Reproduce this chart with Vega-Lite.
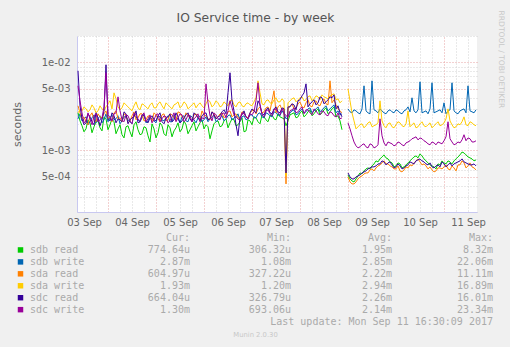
{
"$schema":"https://vega.github.io/schema/vega-lite/v6.json",
"background":"#f0f0f0",
"padding":{"left":11,"top":9,"right":9,"bottom":9},
"spacing":6,
"config":{"view":{"stroke":null}},
"vconcat":[
{
"width":400,"height":176,
"view":{"fill":"#ffffff","stroke":null},
"resolve":{"axis":{"x":"independent","y":"independent"}},
"layer":[
{
"data":{"values":[
{"t":"2017-09-03T09:00","s":1,"a":0.00268,"b":0.00229,"c":0.00322,"d":0.00268,"e":0.00805,"f":0.00543},
{"t":"2017-09-03T11:00","s":1,"a":0.00191,"b":0.00217,"c":0.00229,"d":0.00282,"e":0.00229,"f":0.00268},
{"t":"2017-09-03T13:00","s":1,"a":0.00176,"b":0.00241,"c":0.00212,"d":0.00297,"e":0.00206,"f":0.00217},
{"t":"2017-09-03T15:00","s":1,"a":0.00206,"b":0.00212,"c":0.00248,"d":0.0029,"e":0.00241,"f":0.00229},
{"t":"2017-09-03T17:00","s":1,"a":0.00186,"b":0.00254,"c":0.00223,"d":0.00305,"e":0.00196,"f":0.00248},
{"t":"2017-09-03T19:00","s":1,"a":0.00217,"b":0.00229,"c":0.00261,"d":0.00282,"e":0.00235,"f":0.00212},
{"t":"2017-09-03T21:00","s":1,"a":0.00167,"b":0.00206,"c":0.00235,"d":0.00297,"e":0.00223,"f":0.00235},
{"t":"2017-09-03T23:00","s":1,"a":0.00229,"b":0.00261,"c":0.00282,"d":0.00313,"e":0.00942,"f":0.00764},
{"t":"2017-09-04T01:00","s":1,"a":0.00196,"b":0.00235,"c":0.00241,"d":0.00367,"e":0.00217,"f":0.00241},
{"t":"2017-09-04T03:00","s":1,"a":0.00212,"b":0.00223,"c":0.00268,"d":0.00452,"e":0.00248,"f":0.00261},
{"t":"2017-09-04T05:00","s":1,"a":0.00176,"b":0.00248,"c":0.00229,"d":0.00313,"e":0.00229,"f":0.00407},
{"t":"2017-09-04T07:00","s":1,"a":0.00151,"b":0.00217,"c":0.00212,"d":0.00305,"e":0.00212,"f":0.00223},
{"t":"2017-09-04T09:00","s":1,"a":0.00186,"b":0.00241,"c":0.00254,"d":0.0033,"e":0.00261,"f":0.00254},
{"t":"2017-09-04T11:00","s":1,"a":0.00163,"b":0.00212,"c":0.00217,"d":0.00297,"e":0.00223,"f":0.00217},
{"t":"2017-09-04T13:00","s":1,"a":0.00196,"b":0.00254,"c":0.00275,"d":0.00322,"e":0.00241,"f":0.00268},
{"t":"2017-09-04T15:00","s":1,"a":0.00172,"b":0.00223,"c":0.00235,"d":0.00305,"e":0.00206,"f":0.00229},
{"t":"2017-09-04T17:00","s":1,"a":0.00155,"b":0.00235,"c":0.00261,"d":0.00339,"e":0.00254,"f":0.00248},
{"t":"2017-09-04T19:00","s":1,"a":0.00181,"b":0.00206,"c":0.00223,"d":0.00313,"e":0.00217,"f":0.00212},
{"t":"2017-09-04T21:00","s":1,"a":0.00125,"b":0.00241,"c":0.00241,"d":0.0033,"e":0.00235,"f":0.00254},
{"t":"2017-09-04T23:00","s":1,"a":0.00176,"b":0.00217,"c":0.00268,"d":0.00305,"e":0.00223,"f":0.00223},
{"t":"2017-09-05T01:00","s":1,"a":0.00159,"b":0.00248,"c":0.00229,"d":0.00339,"e":0.00248,"f":0.00261},
{"t":"2017-09-05T03:00","s":1,"a":0.00191,"b":0.00223,"c":0.00254,"d":0.00322,"e":0.00212,"f":0.00229},
{"t":"2017-09-05T05:00","s":1,"a":0.00147,"b":0.00235,"c":0.00217,"d":0.00348,"e":0.00235,"f":0.00241},
{"t":"2017-09-05T07:00","s":1,"a":0.00181,"b":0.00212,"c":0.00261,"d":0.00313,"e":0.00261,"f":0.00217},
{"t":"2017-09-05T09:00","s":1,"a":0.00167,"b":0.00254,"c":0.00235,"d":0.0033,"e":0.00223,"f":0.00268},
{"t":"2017-09-05T11:00","s":1,"a":0.00206,"b":0.00229,"c":0.00275,"d":0.00357,"e":0.00241,"f":0.00235},
{"t":"2017-09-05T13:00","s":1,"a":0.00176,"b":0.00241,"c":0.00241,"d":0.00322,"e":0.00217,"f":0.00254},
{"t":"2017-09-05T15:00","s":1,"a":0.00196,"b":0.00217,"c":0.00268,"d":0.00339,"e":0.00254,"f":0.00223},
{"t":"2017-09-05T17:00","s":1,"a":0.00172,"b":0.00248,"c":0.00229,"d":0.00313,"e":0.00229,"f":0.00248},
{"t":"2017-09-05T19:00","s":1,"a":0.00212,"b":0.00223,"c":0.00254,"d":0.00348,"e":0.00268,"f":0.00229},
{"t":"2017-09-05T21:00","s":1,"a":0.00186,"b":0.00235,"c":0.00235,"d":0.0033,"e":0.00235,"f":0.00261},
{"t":"2017-09-05T23:00","s":1,"a":0.00223,"b":0.00212,"c":0.00282,"d":0.00322,"e":0.00248,"f":0.00235},
{"t":"2017-09-06T01:00","s":1,"a":0.00196,"b":0.00241,"c":0.00248,"d":0.00339,"e":0.00268,"f":0.00572},
{"t":"2017-09-06T03:00","s":1,"a":0.00136,"b":0.00229,"c":0.00223,"d":0.00357,"e":0.00229,"f":0.00248},
{"t":"2017-09-06T05:00","s":1,"a":0.00201,"b":0.00254,"c":0.00261,"d":0.0033,"e":0.00254,"f":0.00268},
{"t":"2017-09-06T07:00","s":1,"a":0.00217,"b":0.00223,"c":0.00241,"d":0.00348,"e":0.00241,"f":0.00229},
{"t":"2017-09-06T09:00","s":1,"a":0.00191,"b":0.00248,"c":0.00268,"d":0.00322,"e":0.00275,"f":0.00261},
{"t":"2017-09-06T11:00","s":1,"a":0.00229,"b":0.00229,"c":0.00248,"d":0.00339,"e":0.00261,"f":0.00235},
{"t":"2017-09-06T13:00","s":1,"a":0.00206,"b":0.00254,"c":0.00282,"d":0.00367,"e":0.00764,"f":0.00367},
{"t":"2017-09-06T15:00","s":1,"a":0.00223,"b":0.00235,"c":0.00254,"d":0.0033,"e":0.00282,"f":0.00254},
{"t":"2017-09-06T17:00","s":1,"a":0.00196,"b":0.00261,"c":0.00235,"d":0.00348,"e":0.00147,"f":0.00229},
{"t":"2017-09-06T19:00","s":1,"a":0.00235,"b":0.00241,"c":0.00275,"d":0.00322,"e":0.00254,"f":0.00268},
{"t":"2017-09-06T21:00","s":1,"a":0.00167,"b":0.00223,"c":0.00241,"d":0.00339,"e":0.00241,"f":0.00241},
{"t":"2017-09-06T23:00","s":1,"a":0.00217,"b":0.00254,"c":0.00268,"d":0.0033,"e":0.00268,"f":0.00261},
{"t":"2017-09-07T01:00","s":1,"a":0.00241,"b":0.00235,"c":0.0029,"d":0.00357,"e":0.00282,"f":0.00275},
{"t":"2017-09-07T03:00","s":1,"a":0.00212,"b":0.00261,"c":0.00297,"d":0.00619,"e":0.00367,"f":0.00588},
{"t":"2017-09-07T05:00","s":1,"a":0.00254,"b":0.00241,"c":0.00268,"d":0.00339,"e":0.00261,"f":0.00254},
{"t":"2017-09-07T07:00","s":1,"a":0.00223,"b":0.00268,"c":0.00305,"d":0.00367,"e":0.0029,"f":0.00282},
{"t":"2017-09-07T09:00","s":1,"a":0.00248,"b":0.00248,"c":0.00282,"d":0.00348,"e":0.00268,"f":0.00261},
{"t":"2017-09-07T11:00","s":1,"a":0.00229,"b":0.00275,"c":0.00477,"d":0.00377,"e":0.00297,"f":0.0029},
{"t":"2017-09-07T13:00","s":1,"a":0.00261,"b":0.00254,"c":0.00313,"d":0.00357,"e":0.00275,"f":0.00268},
{"t":"2017-09-07T15:00","s":1,"a":0.00235,"b":0.00282,"c":0.0029,"d":0.00386,"e":0.00305,"f":0.00297},
{"t":"2017-09-07T17:00","s":1,"a":0.00191,"b":0.00229,"c":0.000417,"d":0.000514,"e":0.000556,"f":0.00248},
{"t":"2017-09-07T19:00","s":1,"a":0.00254,"b":0.00268,"c":0.00322,"d":0.00367,"e":0.00313,"f":0.00282},
{"t":"2017-09-07T21:00","s":1,"a":0.00268,"b":0.0029,"c":0.00297,"d":0.00397,"e":0.0033,"f":0.00305},
{"t":"2017-09-07T23:00","s":1,"a":0.00241,"b":0.00261,"c":0.00339,"d":0.00377,"e":0.00367,"f":0.00275},
{"t":"2017-09-08T01:00","s":1,"a":0.00282,"b":0.00297,"c":0.00313,"d":0.00407,"e":0.00418,"f":0.00313},
{"t":"2017-09-08T03:00","s":1,"a":0.00254,"b":0.00275,"c":0.00348,"d":0.00377,"e":0.00572,"f":0.0029},
{"t":"2017-09-08T05:00","s":1,"a":0.0029,"b":0.00305,"c":0.00322,"d":0.00418,"e":0.00339,"f":0.00268},
{"t":"2017-09-08T07:00","s":1,"a":0.00261,"b":0.00282,"c":0.00357,"d":0.00386,"e":0.00377,"f":0.00297},
{"t":"2017-09-08T09:00","s":1,"a":0.00297,"b":0.00313,"c":0.0033,"d":0.00407,"e":0.00348,"f":0.00261},
{"t":"2017-09-08T11:00","s":1,"a":0.00268,"b":0.0029,"c":0.00367,"d":0.00429,"e":0.00397,"f":0.00282},
{"t":"2017-09-08T13:00","s":1,"a":0.00305,"b":0.00322,"c":0.00339,"d":0.00397,"e":0.00357,"f":0.00254},
{"t":"2017-09-08T15:00","s":1,"a":0.00275,"b":0.00297,"c":0.00619,"d":0.00418,"e":0.00407,"f":0.00275},
{"t":"2017-09-08T17:00","s":1,"a":0.00313,"b":0.0033,"c":0.00377,"d":0.00441,"e":0.00429,"f":0.00248},
{"t":"2017-09-08T19:00","s":1,"a":0.00248,"b":0.00282,"c":0.00297,"d":0.00386,"e":0.00322,"f":0.00268},
{"t":"2017-09-08T21:00","s":1,"a":0.00172,"b":0.00261,"c":0.00268,"d":0.00367,"e":0.00241,"f":0.00235},
{"t":"2017-09-03T10:00","s":1,"a":0.00217,"b":0.00261,"c":0.00268,"d":0.0029,"e":0.00322,"f":0.00367},
{"t":"2017-09-03T12:00","s":1,"a":0.00163,"b":0.00229,"c":0.00241,"d":0.00313,"e":0.00196,"f":0.00206},
{"t":"2017-09-03T14:00","s":1,"a":0.00223,"b":0.00196,"c":0.00196,"d":0.00275,"e":0.00261,"f":0.00268},
{"t":"2017-09-03T16:00","s":1,"a":0.00159,"b":0.00235,"c":0.00268,"d":0.0033,"e":0.00212,"f":0.00196},
{"t":"2017-09-03T18:00","s":1,"a":0.00212,"b":0.00206,"c":0.00212,"d":0.00268,"e":0.00268,"f":0.00261},
{"t":"2017-09-03T20:00","s":1,"a":0.00181,"b":0.00248,"c":0.00241,"d":0.00322,"e":0.00191,"f":0.00223},
{"t":"2017-09-03T22:00","s":1,"a":0.00241,"b":0.00223,"c":0.00261,"d":0.00282,"e":0.00282,"f":0.00313},
{"t":"2017-09-04T00:00","s":1,"a":0.00172,"b":0.00212,"c":0.00229,"d":0.00339,"e":0.00229,"f":0.00254},
{"t":"2017-09-04T02:00","s":1,"a":0.00229,"b":0.00254,"c":0.00212,"d":0.00297,"e":0.00268,"f":0.00217},
{"t":"2017-09-04T04:00","s":1,"a":0.00155,"b":0.00229,"c":0.00282,"d":0.00386,"e":0.00206,"f":0.00268},
{"t":"2017-09-04T06:00","s":1,"a":0.00196,"b":0.00201,"c":0.00235,"d":0.0029,"e":0.00223,"f":0.00282},
{"t":"2017-09-04T08:00","s":1,"a":0.00139,"b":0.00241,"c":0.00261,"d":0.00348,"e":0.00275,"f":0.00212},
{"t":"2017-09-04T10:00","s":1,"a":0.00191,"b":0.00223,"c":0.00206,"d":0.00313,"e":0.00201,"f":0.00248},
{"t":"2017-09-04T12:00","s":1,"a":0.00143,"b":0.00201,"c":0.00248,"d":0.00282,"e":0.00235,"f":0.00201},
{"t":"2017-09-04T14:00","s":1,"a":0.00212,"b":0.00241,"c":0.00223,"d":0.00357,"e":0.00282,"f":0.00254},
{"t":"2017-09-04T16:00","s":1,"a":0.00151,"b":0.00212,"c":0.00261,"d":0.0029,"e":0.00212,"f":0.00217},
{"t":"2017-09-04T18:00","s":1,"a":0.00186,"b":0.00254,"c":0.00217,"d":0.0033,"e":0.00254,"f":0.00268},
{"t":"2017-09-04T20:00","s":1,"a":0.00147,"b":0.00217,"c":0.00248,"d":0.00297,"e":0.00206,"f":0.00229},
{"t":"2017-09-04T22:00","s":1,"a":0.00201,"b":0.00229,"c":0.00212,"d":0.00348,"e":0.00248,"f":0.00206},
{"t":"2017-09-05T00:00","s":1,"a":0.00139,"b":0.00206,"c":0.00254,"d":0.00305,"e":0.00217,"f":0.00254},
{"t":"2017-09-05T02:00","s":1,"a":0.00206,"b":0.00241,"c":0.00212,"d":0.00357,"e":0.00268,"f":0.00212},
{"t":"2017-09-05T04:00","s":1,"a":0.00155,"b":0.00217,"c":0.00261,"d":0.00297,"e":0.00201,"f":0.00248},
{"t":"2017-09-05T06:00","s":1,"a":0.00196,"b":0.00248,"c":0.00223,"d":0.0033,"e":0.00241,"f":0.00206},
{"t":"2017-09-05T08:00","s":1,"a":0.00143,"b":0.00212,"c":0.00254,"d":0.00297,"e":0.00212,"f":0.00241},
{"t":"2017-09-05T10:00","s":1,"a":0.00181,"b":0.00235,"c":0.00217,"d":0.00339,"e":0.00268,"f":0.00212},
{"t":"2017-09-05T12:00","s":1,"a":0.00163,"b":0.00206,"c":0.00268,"d":0.00305,"e":0.00206,"f":0.00261},
{"t":"2017-09-05T14:00","s":1,"a":0.00217,"b":0.00248,"c":0.00229,"d":0.00357,"e":0.00235,"f":0.00212},
{"t":"2017-09-05T16:00","s":1,"a":0.00155,"b":0.00212,"c":0.00254,"d":0.00297,"e":0.00268,"f":0.00254},
{"t":"2017-09-05T18:00","s":1,"a":0.00191,"b":0.00241,"c":0.00217,"d":0.0033,"e":0.00212,"f":0.00212},
{"t":"2017-09-05T20:00","s":1,"a":0.00167,"b":0.00206,"c":0.00261,"d":0.00305,"e":0.00254,"f":0.00241},
{"t":"2017-09-05T22:00","s":1,"a":0.00206,"b":0.00248,"c":0.00223,"d":0.00348,"e":0.00217,"f":0.00212},
{"t":"2017-09-06T00:00","s":1,"a":0.00176,"b":0.00223,"c":0.00254,"d":0.00305,"e":0.00261,"f":0.00229},
{"t":"2017-09-06T02:00","s":1,"a":0.00186,"b":0.00212,"c":0.00229,"d":0.00377,"e":0.00223,"f":0.00348},
{"t":"2017-09-06T04:00","s":1,"a":0.00167,"b":0.00241,"c":0.00275,"d":0.00313,"e":0.00275,"f":0.00217},
{"t":"2017-09-06T06:00","s":1,"a":0.00212,"b":0.00212,"c":0.00229,"d":0.00367,"e":0.00229,"f":0.00254},
{"t":"2017-09-06T08:00","s":1,"a":0.00186,"b":0.00235,"c":0.00261,"d":0.00313,"e":0.00248,"f":0.00223},
{"t":"2017-09-06T10:00","s":1,"a":0.00217,"b":0.00217,"c":0.00235,"d":0.00357,"e":0.0029,"f":0.00268},
{"t":"2017-09-06T12:00","s":1,"a":0.00181,"b":0.00248,"c":0.00275,"d":0.00322,"e":0.00452,"f":0.00282},
{"t":"2017-09-06T14:00","s":1,"a":0.00229,"b":0.00223,"c":0.00241,"d":0.00377,"e":0.00367,"f":0.00305},
{"t":"2017-09-06T16:00","s":1,"a":0.00191,"b":0.00241,"c":0.00261,"d":0.00313,"e":0.00196,"f":0.00241},
{"t":"2017-09-06T18:00","s":1,"a":0.00212,"b":0.00217,"c":0.00229,"d":0.00357,"e":0.00241,"f":0.00217},
{"t":"2017-09-06T20:00","s":1,"a":0.00163,"b":0.00248,"c":0.00268,"d":0.00313,"e":0.00282,"f":0.00261},
{"t":"2017-09-06T22:00","s":1,"a":0.00223,"b":0.00229,"c":0.00235,"d":0.00348,"e":0.00229,"f":0.00229},
{"t":"2017-09-07T00:00","s":1,"a":0.00196,"b":0.00254,"c":0.00282,"d":0.00322,"e":0.00297,"f":0.00254},
{"t":"2017-09-07T02:00","s":1,"a":0.00235,"b":0.00235,"c":0.00261,"d":0.00397,"e":0.00268,"f":0.00367},
{"t":"2017-09-07T04:00","s":1,"a":0.00201,"b":0.00268,"c":0.00313,"d":0.00452,"e":0.0033,"f":0.0033},
{"t":"2017-09-07T06:00","s":1,"a":0.00241,"b":0.00235,"c":0.00275,"d":0.0033,"e":0.00254,"f":0.00241},
{"t":"2017-09-07T08:00","s":1,"a":0.00212,"b":0.00261,"c":0.00313,"d":0.00377,"e":0.00305,"f":0.0029},
{"t":"2017-09-07T10:00","s":1,"a":0.00254,"b":0.00241,"c":0.00367,"d":0.00339,"e":0.00261,"f":0.00248},
{"t":"2017-09-07T12:00","s":1,"a":0.00223,"b":0.00268,"c":0.00268,"d":0.00397,"e":0.00313,"f":0.00297},
{"t":"2017-09-07T14:00","s":1,"a":0.00241,"b":0.00248,"c":0.0033,"d":0.00357,"e":0.00268,"f":0.00254},
{"t":"2017-09-07T16:00","s":1,"a":0.00229,"b":0.00261,"c":0.00305,"d":0.00367,"e":0.00297,"f":0.00268},
{"t":"2017-09-07T18:00","s":1,"a":0.00217,"b":0.00241,"c":0.00297,"d":0.00348,"e":0.00313,"f":0.00241},
{"t":"2017-09-07T20:00","s":1,"a":0.00261,"b":0.00282,"c":0.00339,"d":0.00386,"e":0.00339,"f":0.0029},
{"t":"2017-09-07T22:00","s":1,"a":0.00235,"b":0.00254,"c":0.00305,"d":0.00357,"e":0.0029,"f":0.00268},
{"t":"2017-09-08T00:00","s":1,"a":0.00268,"b":0.00282,"c":0.00357,"d":0.00397,"e":0.00377,"f":0.00297},
{"t":"2017-09-08T02:00","s":1,"a":0.00241,"b":0.00268,"c":0.00305,"d":0.00367,"e":0.00452,"f":0.00261},
{"t":"2017-09-08T04:00","s":1,"a":0.00275,"b":0.00297,"c":0.00377,"d":0.00407,"e":0.00313,"f":0.0029},
{"t":"2017-09-08T06:00","s":1,"a":0.00248,"b":0.00268,"c":0.00313,"d":0.00367,"e":0.00357,"f":0.00254},
{"t":"2017-09-08T08:00","s":1,"a":0.00282,"b":0.00297,"c":0.00367,"d":0.00418,"e":0.0033,"f":0.00282},
{"t":"2017-09-08T10:00","s":1,"a":0.00254,"b":0.00275,"c":0.00322,"d":0.00377,"e":0.00407,"f":0.00254},
{"t":"2017-09-08T12:00","s":1,"a":0.0029,"b":0.00305,"c":0.00386,"d":0.00407,"e":0.00339,"f":0.00275},
{"t":"2017-09-08T14:00","s":1,"a":0.00261,"b":0.00282,"c":0.0033,"d":0.00386,"e":0.00377,"f":0.00248},
{"t":"2017-09-08T16:00","s":1,"a":0.00297,"b":0.00313,"c":0.00348,"d":0.00429,"e":0.00397,"f":0.00268},
{"t":"2017-09-08T18:00","s":1,"a":0.00241,"b":0.00268,"c":0.0033,"d":0.00377,"e":0.00297,"f":0.00241},
{"t":"2017-09-08T20:00","s":1,"a":0.00217,"b":0.00254,"c":0.00282,"d":0.00348,"e":0.00268,"f":0.00229},
{"t":"2017-09-09T00:00","s":2,"a":0.000528,"b":0.00297,"c":0.000501,"d":0.00502,"e":0.000556,"f":0.00206},
{"t":"2017-09-09T02:00","s":2,"a":0.000451,"b":0.00268,"c":0.000417,"d":0.00268,"e":0.000475,"f":0.00147},
{"t":"2017-09-09T04:00","s":2,"a":0.000475,"b":0.00282,"c":0.000439,"d":0.00176,"e":0.000501,"f":0.00113},
{"t":"2017-09-09T06:00","s":2,"a":0.000556,"b":0.00261,"c":0.000501,"d":0.00196,"e":0.000528,"f":0.0011},
{"t":"2017-09-09T08:00","s":2,"a":0.000586,"b":0.00543,"c":0.000542,"d":0.00181,"e":0.000571,"f":0.00119},
{"t":"2017-09-09T10:00","s":2,"a":0.000634,"b":0.00268,"c":0.000556,"d":0.00206,"e":0.000618,"f":0.00107},
{"t":"2017-09-09T12:00","s":2,"a":0.000668,"b":0.00619,"c":0.000618,"d":0.00186,"e":0.000651,"f":0.00116},
{"t":"2017-09-09T14:00","s":2,"a":0.000762,"b":0.00282,"c":0.000634,"d":0.00196,"e":0.000668,"f":0.0011},
{"t":"2017-09-09T16:00","s":2,"a":0.000803,"b":0.00297,"c":0.000686,"d":0.00367,"e":0.000704,"f":0.00229},
{"t":"2017-09-09T18:00","s":2,"a":0.000891,"b":0.00268,"c":0.000762,"d":0.00191,"e":0.000742,"f":0.00122},
{"t":"2017-09-09T20:00","s":2,"a":0.000803,"b":0.00282,"c":0.000704,"d":0.00201,"e":0.000723,"f":0.00125},
{"t":"2017-09-09T22:00","s":2,"a":0.000723,"b":0.00275,"c":0.000651,"d":0.00186,"e":0.000686,"f":0.00119},
{"t":"2017-09-10T00:00","s":2,"a":0.000668,"b":0.0029,"c":0.000618,"d":0.00196,"e":0.000651,"f":0.00116},
{"t":"2017-09-10T02:00","s":2,"a":0.000704,"b":0.00268,"c":0.000586,"d":0.00206,"e":0.000668,"f":0.00122},
{"t":"2017-09-10T04:00","s":2,"a":0.000651,"b":0.00282,"c":0.000602,"d":0.00186,"e":0.000634,"f":0.00113},
{"t":"2017-09-10T06:00","s":2,"a":0.000723,"b":0.00313,"c":0.000634,"d":0.00282,"e":0.000686,"f":0.00125},
{"t":"2017-09-10T08:00","s":2,"a":0.000803,"b":0.00397,"c":0.000668,"d":0.00196,"e":0.000723,"f":0.00136},
{"t":"2017-09-10T10:00","s":2,"a":0.000868,"b":0.00268,"c":0.000762,"d":0.00181,"e":0.000762,"f":0.00143},
{"t":"2017-09-10T12:00","s":2,"a":0.000915,"b":0.00603,"c":0.000742,"d":0.00201,"e":0.000803,"f":0.00139},
{"t":"2017-09-10T14:00","s":2,"a":0.000803,"b":0.00275,"c":0.000704,"d":0.00191,"e":0.000742,"f":0.00129},
{"t":"2017-09-10T16:00","s":2,"a":0.000723,"b":0.00261,"c":0.000618,"d":0.00196,"e":0.000686,"f":0.00119},
{"t":"2017-09-10T18:00","s":2,"a":0.000668,"b":0.00588,"c":0.000602,"d":0.00181,"e":0.000651,"f":0.00125},
{"t":"2017-09-10T20:00","s":2,"a":0.000618,"b":0.00275,"c":0.000586,"d":0.00201,"e":0.000668,"f":0.00116},
{"t":"2017-09-10T22:00","s":2,"a":0.000686,"b":0.0029,"c":0.000634,"d":0.00191,"e":0.000651,"f":0.00122},
{"t":"2017-09-11T00:00","s":2,"a":0.000723,"b":0.00348,"c":0.000651,"d":0.00206,"e":0.000704,"f":0.00129},
{"t":"2017-09-11T02:00","s":2,"a":0.000762,"b":0.00282,"c":0.000618,"d":0.00297,"e":0.000686,"f":0.00212},
{"t":"2017-09-11T04:00","s":2,"a":0.000704,"b":0.00588,"c":0.000668,"d":0.00196,"e":0.000668,"f":0.00125},
{"t":"2017-09-11T06:00","s":2,"a":0.000803,"b":0.00268,"c":0.000586,"d":0.00186,"e":0.000723,"f":0.00119},
{"t":"2017-09-11T08:00","s":2,"a":0.000891,"b":0.00282,"c":0.000686,"d":0.00196,"e":0.000762,"f":0.00122},
{"t":"2017-09-11T10:00","s":2,"a":0.000939,"b":0.00297,"c":0.000723,"d":0.00241,"e":0.000742,"f":0.00151},
{"t":"2017-09-11T12:00","s":2,"a":0.000846,"b":0.00543,"c":0.000668,"d":0.00191,"e":0.000704,"f":0.00139},
{"t":"2017-09-11T14:00","s":2,"a":0.000803,"b":0.00275,"c":0.000651,"d":0.00206,"e":0.000686,"f":0.00125},
{"t":"2017-09-11T16:00","s":2,"a":0.000782,"b":0.0029,"c":0.000602,"d":0.00191,"e":0.000668,"f":0.00129},
{"t":"2017-09-09T01:00","s":2,"a":0.000475,"b":0.00275,"c":0.000439,"d":0.00367,"e":0.000501,"f":0.00176},
{"t":"2017-09-09T03:00","s":2,"a":0.000439,"b":0.0029,"c":0.000417,"d":0.00217,"e":0.000475,"f":0.00125},
{"t":"2017-09-09T05:00","s":2,"a":0.000514,"b":0.00268,"c":0.000475,"d":0.00186,"e":0.000514,"f":0.00107},
{"t":"2017-09-09T07:00","s":2,"a":0.000542,"b":0.00297,"c":0.000514,"d":0.00201,"e":0.000556,"f":0.00116},
{"t":"2017-09-09T09:00","s":2,"a":0.000618,"b":0.00282,"c":0.000556,"d":0.00191,"e":0.000586,"f":0.0011},
{"t":"2017-09-09T11:00","s":2,"a":0.000618,"b":0.00261,"c":0.000602,"d":0.00212,"e":0.000634,"f":0.00119},
{"t":"2017-09-09T13:00","s":2,"a":0.000704,"b":0.0029,"c":0.000586,"d":0.00191,"e":0.000651,"f":0.00107},
{"t":"2017-09-09T15:00","s":2,"a":0.000742,"b":0.00268,"c":0.000668,"d":0.00206,"e":0.000704,"f":0.00116},
{"t":"2017-09-09T17:00","s":2,"a":0.000846,"b":0.00282,"c":0.000723,"d":0.00217,"e":0.000762,"f":0.00147},
{"t":"2017-09-09T19:00","s":2,"a":0.000824,"b":0.00261,"c":0.000704,"d":0.00181,"e":0.000686,"f":0.00113},
{"t":"2017-09-09T21:00","s":2,"a":0.000742,"b":0.0029,"c":0.000668,"d":0.00206,"e":0.000742,"f":0.00122},
{"t":"2017-09-09T23:00","s":2,"a":0.000651,"b":0.00268,"c":0.000618,"d":0.00181,"e":0.000634,"f":0.00113},
{"t":"2017-09-10T01:00","s":2,"a":0.000723,"b":0.00282,"c":0.000668,"d":0.00212,"e":0.000704,"f":0.00125},
{"t":"2017-09-10T03:00","s":2,"a":0.000634,"b":0.00261,"c":0.000571,"d":0.00191,"e":0.000618,"f":0.00116},
{"t":"2017-09-10T05:00","s":2,"a":0.000686,"b":0.0029,"c":0.000651,"d":0.00201,"e":0.000668,"f":0.00122},
{"t":"2017-09-10T07:00","s":2,"a":0.000762,"b":0.00275,"c":0.000686,"d":0.00186,"e":0.000742,"f":0.00129},
{"t":"2017-09-10T09:00","s":2,"a":0.000846,"b":0.00282,"c":0.000723,"d":0.00206,"e":0.000704,"f":0.00139},
{"t":"2017-09-10T11:00","s":2,"a":0.000824,"b":0.0029,"c":0.000803,"d":0.00186,"e":0.000782,"f":0.00132},
{"t":"2017-09-10T13:00","s":2,"a":0.000868,"b":0.00268,"c":0.000686,"d":0.00212,"e":0.000762,"f":0.00136},
{"t":"2017-09-10T15:00","s":2,"a":0.000762,"b":0.00282,"c":0.000668,"d":0.00186,"e":0.000704,"f":0.00125},
{"t":"2017-09-10T17:00","s":2,"a":0.000686,"b":0.00297,"c":0.000651,"d":0.00206,"e":0.000723,"f":0.00116},
{"t":"2017-09-10T19:00","s":2,"a":0.000651,"b":0.00268,"c":0.000571,"d":0.00191,"e":0.000634,"f":0.00122},
{"t":"2017-09-10T21:00","s":2,"a":0.000704,"b":0.00282,"c":0.000634,"d":0.00212,"e":0.000686,"f":0.00125},
{"t":"2017-09-10T23:00","s":2,"a":0.000762,"b":0.00268,"c":0.000618,"d":0.00196,"e":0.000742,"f":0.00119},
{"t":"2017-09-11T01:00","s":2,"a":0.000704,"b":0.00261,"c":0.000686,"d":0.00229,"e":0.000651,"f":0.00143},
{"t":"2017-09-11T03:00","s":2,"a":0.000742,"b":0.0029,"c":0.000602,"d":0.00217,"e":0.000723,"f":0.00136},
{"t":"2017-09-11T05:00","s":2,"a":0.000762,"b":0.00282,"c":0.000634,"d":0.00181,"e":0.000704,"f":0.00116},
{"t":"2017-09-11T07:00","s":2,"a":0.000846,"b":0.00261,"c":0.000686,"d":0.00201,"e":0.000742,"f":0.00125},
{"t":"2017-09-11T09:00","s":2,"a":0.00096,"b":0.0029,"c":0.000762,"d":0.00212,"e":0.000803,"f":0.00132},
{"t":"2017-09-11T11:00","s":2,"a":0.000891,"b":0.00268,"c":0.000634,"d":0.00196,"e":0.000723,"f":0.00129},
{"t":"2017-09-11T13:00","s":2,"a":0.000824,"b":0.00282,"c":0.000723,"d":0.00212,"e":0.000686,"f":0.00136},
{"t":"2017-09-11T15:00","s":2,"a":0.000762,"b":0.00268,"c":0.000634,"d":0.00196,"e":0.000704,"f":0.00125}
]},
"transform":[{"fold":["a","b","c","d","e","f"],"as":["k","v"]}],
"mark":{"type":"line","strokeWidth":1,"clip":true},
"encoding":{
"x":{"field":"t","type":"temporal","scale":{"domain":[{"year":2017,"month":9,"date":3,"hours":8,"minutes":30},{"year":2017,"month":9,"date":11,"hours":16,"minutes":30}],"nice":false},
"axis":{"orient":"bottom","title":null,"values":[
{"year":2017,"month":9,"date":3,"hours":12},{"year":2017,"month":9,"date":3,"hours":18},
{"year":2017,"month":9,"date":4,"hours":6},{"year":2017,"month":9,"date":4,"hours":12},{"year":2017,"month":9,"date":4,"hours":18},
{"year":2017,"month":9,"date":5,"hours":6},{"year":2017,"month":9,"date":5,"hours":12},{"year":2017,"month":9,"date":5,"hours":18},
{"year":2017,"month":9,"date":6,"hours":6},{"year":2017,"month":9,"date":6,"hours":12},{"year":2017,"month":9,"date":6,"hours":18},
{"year":2017,"month":9,"date":7,"hours":6},{"year":2017,"month":9,"date":7,"hours":12},{"year":2017,"month":9,"date":7,"hours":18},
{"year":2017,"month":9,"date":8,"hours":6},{"year":2017,"month":9,"date":8,"hours":12},{"year":2017,"month":9,"date":8,"hours":18},
{"year":2017,"month":9,"date":9,"hours":6},{"year":2017,"month":9,"date":9,"hours":12},{"year":2017,"month":9,"date":9,"hours":18},
{"year":2017,"month":9,"date":10,"hours":6},{"year":2017,"month":9,"date":10,"hours":12},{"year":2017,"month":9,"date":10,"hours":18},
{"year":2017,"month":9,"date":11,"hours":6},{"year":2017,"month":9,"date":11,"hours":12}],
"labelExpr":"hours(datum.value) == 12 ? timeFormat(datum.value, '%d %b') : ''","labelOverlap":false,"labelFlush":false,"labelFont":"DejaVu Sans","labelFontSize":10,"labelColor":"#666666","labelPadding":5,"ticks":false,"grid":true,"gridColor":"#d2d2d2","gridDash":[1,2],"domainColor":"#c8c8f0"}},
"y":{"field":"v","type":"quantitative","scale":{"type":"log","domain":[0.0002,0.02],"nice":false},
"axis":{"orient":"left","title":"seconds","values":[0.0005,0.001,0.005,0.01],"labelExpr":"replace(format(datum.value, '.0e'), 'e-', 'e-0')","labelOverlap":false,"labelFont":"DejaVu Sans","labelFontSize":10,"labelColor":"#666666","labelPadding":7,"ticks":false,"grid":true,"gridColor":"#e6a3a3","gridDash":[1,2],"domainColor":"#c8c8f0","titleFont":"DejaVu Sans","titleFontSize":11,"titleFontWeight":"normal","titleColor":"#666666","titlePadding":19}},
"color":{"field":"k","type":"nominal","scale":{"domain":["a","b","c","d","e","f"],"range":["#00cc00","#0066b3","#ff8000","#ffcc00","#330099","#990099"]},"legend":null},
"detail":{"field":"s","type":"nominal"}
}
},
{
"data":{"values":[{"t":"2017-09-05T00:00","v":0.001}]},
"mark":{"type":"point","opacity":0},
"encoding":{
"x":{"field":"t","type":"temporal","scale":{"domain":[{"year":2017,"month":9,"date":3,"hours":8,"minutes":30},{"year":2017,"month":9,"date":11,"hours":16,"minutes":30}],"nice":false},
"axis":{"orient":"top","values":[{"year":2017,"month":9,"date":4},{"year":2017,"month":9,"date":5},{"year":2017,"month":9,"date":6},{"year":2017,"month":9,"date":7},{"year":2017,"month":9,"date":8},{"year":2017,"month":9,"date":9},{"year":2017,"month":9,"date":10},{"year":2017,"month":9,"date":11}],"grid":true,"gridColor":"#e6a3a3","gridDash":[1,2],"labels":false,"ticks":false,"domain":false,"title":"IO Service time - by week","titleX":178,"titleY":-14.3,"titleAlign":"center","titleBaseline":"alphabetic","titleFont":"DejaVu Sans","titleFontSize":12.3,"titleFontWeight":"normal","titleColor":"#555555"}},
"y":{"field":"v","type":"quantitative","scale":{"type":"log","domain":[0.0002,0.02],"nice":false},
"axis":{"orient":"right","values":[0.0002,0.0003,0.0004,0.0006,0.0007,0.0008,0.0009,0.002,0.003,0.004,0.006,0.007,0.008,0.009,0.02],"grid":true,"gridColor":"#d2d2d2","gridDash":[1,2],"labels":false,"ticks":false,"domain":false,"title":"RRDTOOL / TOBI OETIKER","titleAngle":90,"titleX":23.5,"titleY":-26,"titleAlign":"left","titleBaseline":"middle","titleFont":"DejaVu Sans","titleFontSize":7.6,"titleFontWeight":"normal","titleColor":"#c8c8c8"}}
}
}
]
},
{
"width":416,"height":83.6,
"view":{"stroke":null},
"title":{"text":"Munin 2.0.30","orient":"bottom","anchor":"middle","frame":"group","dx":-29.5,"offset":8.4,"baseline":"middle","font":"DejaVu Sans","fontSize":6.8,"fontWeight":"normal","color":"#c8c8c8"},
"data":{"values":[
{"r":1,"k":"a","name":"sdb read","cur":"774.64u","min":"306.32u","avg":"1.95m","max":"8.32m"},
{"r":2,"k":"b","name":"sdb write","cur":"2.87m","min":"1.08m","avg":"2.85m","max":"22.06m"},
{"r":3,"k":"c","name":"sda read","cur":"604.97u","min":"327.22u","avg":"2.22m","max":"11.11m"},
{"r":4,"k":"d","name":"sda write","cur":"1.93m","min":"1.20m","avg":"2.94m","max":"16.89m"},
{"r":5,"k":"e","name":"sdc read","cur":"664.04u","min":"326.79u","avg":"2.26m","max":"16.01m"},
{"r":6,"k":"f","name":"sdc write","cur":"1.30m","min":"693.06u","avg":"2.14m","max":"23.34m"}
]},
"layer":[
{
"mark":{"type":"square","size":30,"opacity":1,"filled":true,"xOffset":-68.5},
"encoding":{
"x":{"datum":"name","type":"nominal","scale":{"type":"point","domain":["name","cur","min","avg","max"],"range":[12,416],"padding":0},"axis":null},
"y":{"field":"r","type":"quantitative","scale":{"domain":[0,7],"reverse":true,"nice":false},"axis":null},
"color":{"field":"k","type":"nominal","scale":{"domain":["a","b","c","d","e","f"],"range":["#00cc00","#0066b3","#ff8000","#ffcc00","#330099","#990099"]},"legend":null}
}
},
{
"mark":{"type":"text","align":"left","baseline":"middle","dx":-59,"font":"DejaVu Sans Mono","fontSize":10,"color":"#aaaaaa"},
"encoding":{
"x":{"datum":"name","type":"nominal","scale":{"type":"point","domain":["name","cur","min","avg","max"],"range":[12,416],"padding":0},"axis":null},
"y":{"field":"r","type":"quantitative","scale":{"domain":[0,7],"reverse":true,"nice":false},"axis":null},
"text":{"field":"name"}
}
},
{
"transform":[{"fold":["cur","min","avg","max"],"as":["col","val"]}],
"mark":{"type":"text","align":"right","baseline":"middle","font":"DejaVu Sans Mono","fontSize":10,"color":"#aaaaaa"},
"encoding":{
"x":{"field":"col","type":"nominal","scale":{"type":"point","domain":["name","cur","min","avg","max"],"range":[12,416],"padding":0},"axis":null},
"y":{"field":"r","type":"quantitative","scale":{"domain":[0,7],"reverse":true,"nice":false},"axis":null},
"text":{"field":"val"}
}
},
{
"data":{"values":[{"col":"cur","r":0,"h":"Cur:\u00a0\u00a0"},{"col":"min","r":0,"h":"Min:\u00a0"},{"col":"avg","r":0,"h":"Avg:\u00a0"},{"col":"max","r":0,"h":"Max:\u00a0\u00a0"},{"col":"max","r":7,"h":"Last update: Mon Sep 11 16:30:09 2017"}]},
"mark":{"type":"text","align":"right","baseline":"middle","font":"DejaVu Sans Mono","fontSize":10,"color":"#aaaaaa"},
"encoding":{
"x":{"field":"col","type":"nominal","scale":{"type":"point","domain":["name","cur","min","avg","max"],"range":[12,416],"padding":0},"axis":null},
"y":{"field":"r","type":"quantitative","scale":{"domain":[0,7],"reverse":true,"nice":false},"axis":null},
"text":{"field":"h"}
}
}
]
}
]
}
